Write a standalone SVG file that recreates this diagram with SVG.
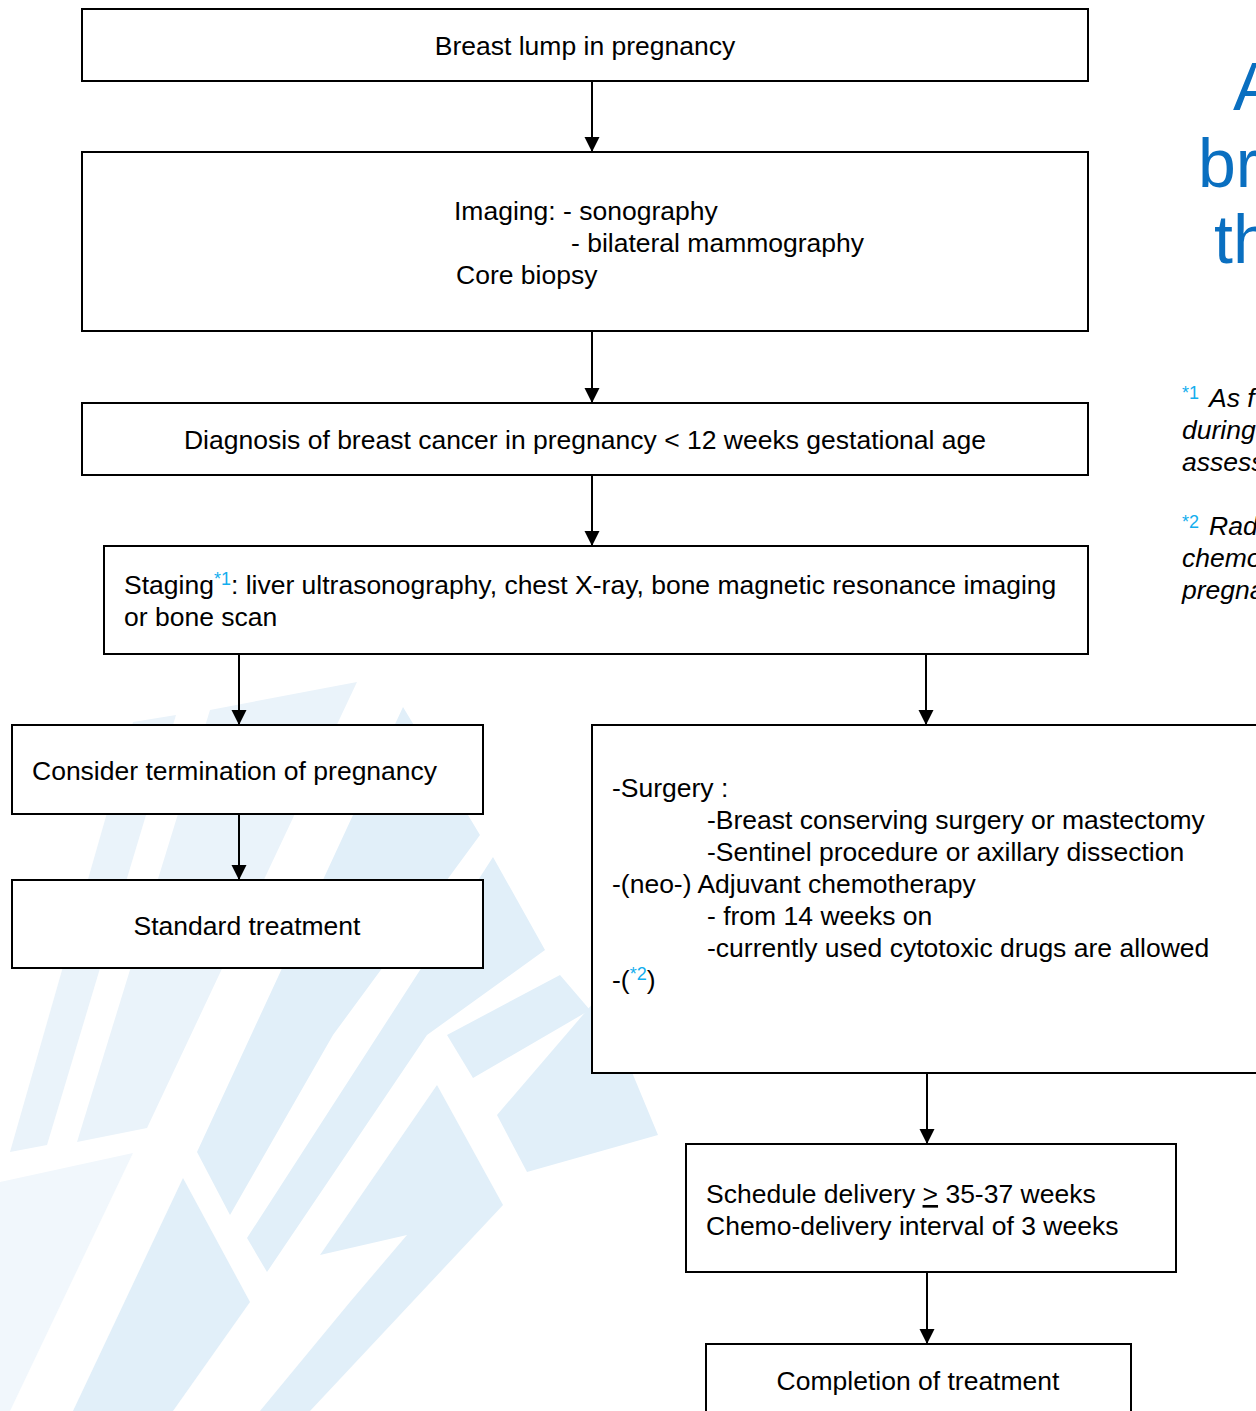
<svg xmlns="http://www.w3.org/2000/svg" width="1256" height="1411" viewBox="0 0 1256 1411">
<style>
.box{fill:#fff;stroke:#000;stroke-width:2}
.t{font-family:"Liberation Sans",Arial,sans-serif;font-size:26.5px;fill:#000}
.sup{font-size:18px;fill:#12aeee}
.fn{font-family:"Liberation Sans",Arial,sans-serif;font-size:26.5px;font-style:italic;fill:#000}
.fs{font-family:"Liberation Sans",Arial,sans-serif;font-size:18px;fill:#12aeee}
.title{font-family:"Liberation Sans",Arial,sans-serif;font-size:68px;fill:#0a6fc0}
.conn{stroke:#000;stroke-width:2;fill:none;marker-end:url(#ah)}
.wm1{fill:#e1eff9}
.wm2{fill:#eaf3fa}
.wm3{fill:#f1f7fc}
</style>
<defs>
<marker id="ah" markerUnits="userSpaceOnUse" markerWidth="16" markerHeight="16" refX="15" refY="7.5" orient="auto">
<path d="M0,0 L15,7.5 L0,15 z" fill="#000"/>
</marker>
</defs>
<rect width="1256" height="1411" fill="#fff"/>
<g id="watermark">
<polygon class="wm3" points="0,1182 133,1153 10,1411 0,1411"/>
<polygon class="wm2" points="10,1152 47,1145 176,715 133,722"/>
<polygon class="wm2" points="77,1142 147,1128 357,682 210,710"/>
<polygon class="wm1" points="403,707 480,835 333,1035 230,1215 197,1152"/>
<polygon class="wm1" points="493,857 545,950 427,1035 267,1272 247,1238"/>
<polygon class="wm1" points="447,1035 473,1078 590,1010 560,975"/>
<polygon class="wm1" points="497,1115 600,995 658,1135 527,1172"/>
<polygon class="wm1" points="437,1085 503,1205 310,1411 260,1411 350,1302 407,1235 320,1255"/>
<polygon class="wm1" points="183,1178 250,1302 173,1411 73,1411"/>
</g>
<g id="connectors">
<line class="conn" x1="592" y1="81" x2="592" y2="152"/>
<line class="conn" x1="592" y1="331" x2="592" y2="403"/>
<line class="conn" x1="592" y1="475" x2="592" y2="546"/>
<line class="conn" x1="239" y1="654" x2="239" y2="725"/>
<line class="conn" x1="926" y1="654" x2="926" y2="725"/>
<line class="conn" x1="239" y1="814" x2="239" y2="880"/>
<line class="conn" x1="927" y1="1073" x2="927" y2="1144"/>
<line class="conn" x1="927" y1="1272" x2="927" y2="1344"/>
</g>
<g id="n1">
<rect class="box" x="82" y="9" width="1006" height="72"/>
<text class="t" x="585" y="55" text-anchor="middle">Breast lump in pregnancy</text>
</g>
<g id="n2">
<rect class="box" x="82" y="152" width="1006" height="179"/>
<text class="t" x="454" y="220">Imaging: - sonography</text>
<text class="t" x="571" y="252">- bilateral mammography</text>
<text class="t" x="456" y="284">Core biopsy</text>
</g>
<g id="n3">
<rect class="box" x="82" y="403" width="1006" height="72"/>
<text class="t" x="585" y="449" text-anchor="middle">Diagnosis of breast cancer in pregnancy &lt; 12 weeks gestational age</text>
</g>
<g id="n4">
<rect class="box" x="104" y="546" width="984" height="108"/>
<text class="t" x="124" y="594">Staging<tspan class="sup" dy="-9">*1</tspan><tspan dy="9">: liver ultrasonography, chest X-ray, bone magnetic resonance imaging</tspan></text>
<text class="t" x="124" y="626">or bone scan</text>
</g>
<g id="n5">
<rect class="box" x="12" y="725" width="471" height="89"/>
<text class="t" x="32" y="780">Consider termination of pregnancy</text>
</g>
<g id="n6">
<rect class="box" x="12" y="880" width="471" height="88"/>
<text class="t" x="247" y="935" text-anchor="middle">Standard treatment</text>
</g>
<g id="n7">
<rect class="box" x="592" y="725" width="700" height="348"/>
<text class="t" x="612" y="797">-Surgery :</text>
<text class="t" x="707" y="829">-Breast conserving surgery or mastectomy</text>
<text class="t" x="707" y="861">-Sentinel procedure or axillary dissection</text>
<text class="t" x="612" y="893">-(neo-) Adjuvant chemotherapy</text>
<text class="t" x="707" y="925">- from 14 weeks on</text>
<text class="t" x="707" y="957">-currently used cytotoxic drugs are allowed</text>
<text class="t" x="612" y="989">-(<tspan class="sup" dy="-9">*2</tspan><tspan dy="9">)</tspan></text>
</g>
<g id="n8">
<rect class="box" x="686" y="1144" width="490" height="128"/>
<text class="t" x="706" y="1203">Schedule delivery <tspan text-decoration="underline">&gt;</tspan> 35-37 weeks</text>
<text class="t" x="706" y="1235">Chemo-delivery interval of 3 weeks</text>
</g>
<g id="n9">
<rect class="box" x="706" y="1344" width="425" height="100"/>
<text class="t" x="918" y="1390" text-anchor="middle">Completion of treatment</text>
</g>
<g id="title">
<text class="title" x="1233" y="110">A</text>
<text class="title" x="1198" y="187">br</text>
<text class="title" x="1214" y="263">th</text>
</g>
<g id="footnotes">
<text class="fs" x="1182" y="399">*1</text>
<text class="fn" x="1209" y="407">As f</text>
<text class="fn" x="1182" y="439">during</text>
<text class="fn" x="1182" y="471">assess</text>
<text class="fs" x="1182" y="528">*2</text>
<text class="fn" x="1209" y="535">Rad</text>
<text class="fn" x="1182" y="567">chemo</text>
<text class="fn" x="1182" y="599">pregna</text>
</g>
</svg>
